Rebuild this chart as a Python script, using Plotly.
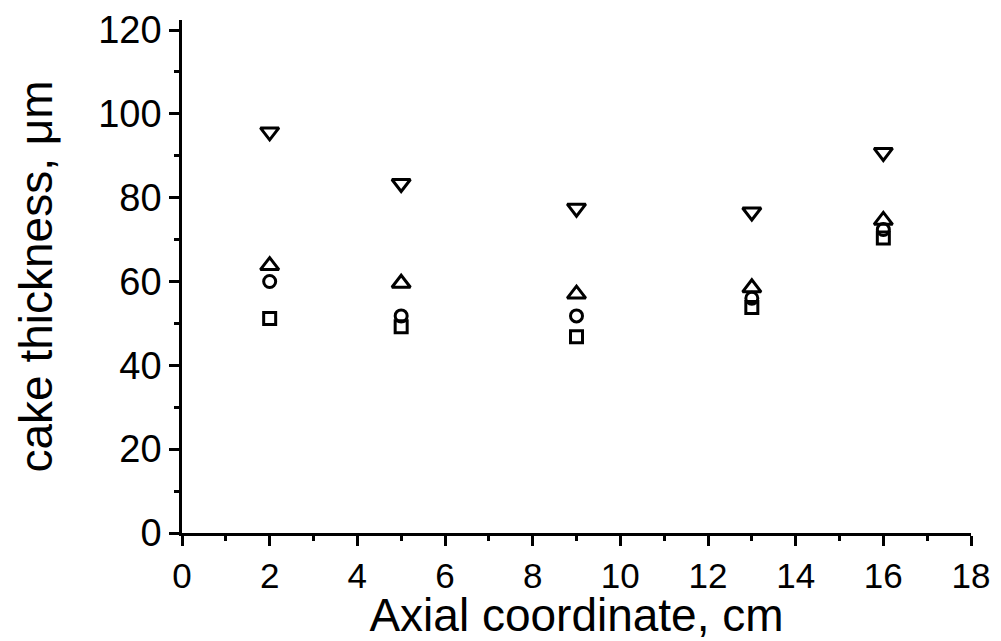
import plotly.graph_objects as go

x_cm = [2, 5, 9, 13, 16]
series_down = [95.7, 83.4, 77.5, 76.6, 90.8]
series_up = [63.8, 59.6, 57.0, 58.5, 74.6]
series_circle = [60.0, 51.8, 51.8, 56.0, 72.4]
series_square = [51.2, 49.2, 46.8, 53.8, 70.4]

x_ticks = list(range(0, 19, 2))
y_ticks = list(range(0, 121, 20))

fig = go.Figure()
marker_line = dict(color="black", width=3)
for vals, sym, sz in [(series_down, "triangle-down-open", 16), (series_up, "triangle-up-open", 16),
                      (series_circle, "circle-open", 12), (series_square, "square-open", 12)]:
    fig.add_trace(go.Scatter(x=x_cm, y=vals, mode="markers",
                             marker=dict(symbol=sym, size=sz, color="black", line=marker_line),
                             showlegend=False))

font_family = "Liberation Sans, Arial, sans-serif"
fig.update_layout(
    width=993, height=633,
    margin=dict(l=174, r=30, t=12, b=108),
    plot_bgcolor="white", paper_bgcolor="white",
    font=dict(family=font_family, color="black"),
)
fig.update_xaxes(
    range=[0, 18], tickvals=x_ticks, ticktext=[str(v) for v in x_ticks],
    automargin=False,
    showgrid=False, zeroline=False, showline=True, linecolor="black", linewidth=2.5,
    ticks="outside", ticklen=10, tickwidth=2.5, tickcolor="black",
    tickfont=dict(size=35),
    minor=dict(dtick=1, ticks="outside", ticklen=5, tickwidth=2.5, tickcolor="black"),
    title=dict(text="Axial coordinate, cm", font=dict(size=46), standoff=9),
)
fig.update_yaxes(
    range=[0, 122.4], tickvals=y_ticks, ticktext=[str(v) for v in y_ticks],
    automargin=False,
    showgrid=False, zeroline=False, showline=True, linecolor="black", linewidth=2.5,
    ticks="outside", ticklen=10, tickwidth=2.5, tickcolor="black",
    tickfont=dict(size=38),
    minor=dict(dtick=10, ticks="outside", ticklen=5, tickwidth=2.5, tickcolor="black"),
    title=dict(text="cake thickness, μm", font=dict(size=46), standoff=32),
)
fig.write_html("out.html")
